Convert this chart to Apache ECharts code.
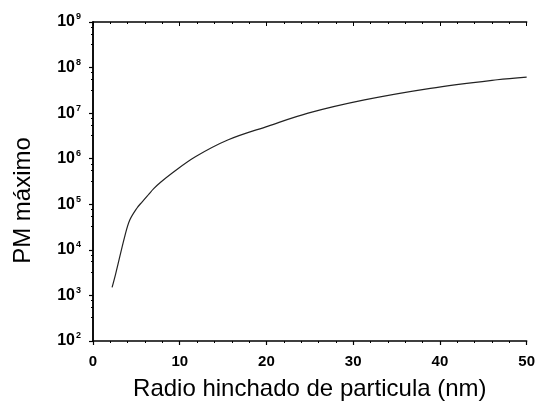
<!DOCTYPE html>
<html><head><meta charset="utf-8">
<script src="https://cdn.jsdelivr.net/npm/echarts@6/dist/echarts.min.js"></script>
<style>html,body{margin:0;padding:0;background:#fff}#c{width:538px;height:406px}</style>
</head><body><div id="c"></div>
<script>
const radius = [2.2, 2.6, 3.67, 4.24, 5.08, 5.65, 6.42, 7.0, 7.76, 9.1, 11.8, 15.6, 20.2, 24.8, 31.3, 38.9, 46.6, 50];
const pmMax = [1.5e3, 2.9e3, 2.0e4, 4.5e4, 8.3e4, 1.12e5, 1.65e5, 2.2e5, 3.0e5, 4.8e5, 1.1e6, 2.6e6, 5.2e6, 1.0e7, 1.95e7, 3.5e7, 5.4e7, 6.2e7];
const xTicks = [0, 10, 20, 30, 40, 50];
const yTickExponents = [2, 3, 4, 5, 6, 7, 8, 9];

const font = 'Liberation Sans, Arial, sans-serif';
const chart = echarts.init(document.getElementById('c'));
const axisLine = {show: true, lineStyle: {color: '#000', width: 1.5}};
chart.setOption({
  animation: false,
  grid: {left: 93, right: 8, top: 22, bottom: 64},
  xAxis: [{
    type: 'value', min: 0, max: 50, interval: 10,
    axisLine: axisLine,
    axisTick: {inside: false, length: 4, lineStyle: {color: '#000', width: 1.2}},
    minorTick: {show: true, splitNumber: 5, length: 2, lineStyle: {color: '#000'}},
    splitLine: {show: false},
    axisLabel: {color: '#000', fontFamily: font, fontSize: 15, fontWeight: 'bold', margin: 13,
      formatter: v => xTicks.includes(v) ? String(v) : ''},
    name: 'Radio hinchado de particula (nm)', nameLocation: 'middle', nameGap: 36,
    nameTextStyle: {color: '#000', fontFamily: font, fontSize: 24}
  }, {
    type: 'value', min: 0, max: 50, interval: 10, position: 'top',
    axisLine: axisLine,
    axisTick: {inside: true, length: 4, lineStyle: {color: '#000'}},
    minorTick: {show: true, splitNumber: 5, length: 2, lineStyle: {color: '#000'}},
    splitLine: {show: false}, axisLabel: {show: false}
  }],
  yAxis: [{
    type: 'log', logBase: 10, min: 100, max: 1e9,
    axisLine: axisLine,
    axisTick: {inside: false, length: 4, lineStyle: {color: '#000', width: 1.2}},
    minorTick: {show: true, splitNumber: 4, length: 2, lineStyle: {color: '#000'}},
    splitLine: {show: false},
    axisLabel: {color: '#000', margin: 12,
      formatter: v => {
        const e = Math.round(Math.log10(v));
        return yTickExponents.includes(e) ? '{b|10}{s|' + e + '}' : '';
      },
      rich: {
        b: {fontFamily: font, fontSize: 16, fontWeight: 'bold', color: '#000'},
        s: {fontFamily: font, fontSize: 9, fontWeight: 'bold', color: '#000', verticalAlign: 'top', padding: [0, 0, 10, 1]}
      }
    },
    name: 'PM máximo', nameLocation: 'middle', nameGap: 58, nameRotate: 90,
    nameTextStyle: {color: '#000', fontFamily: font, fontSize: 24, padding: [0, 38, 0, 0]}
  }, {
    type: 'log', logBase: 10, min: 100, max: 1e9, position: 'right',
    axisLine: axisLine,
    axisTick: {inside: true, length: 4, lineStyle: {color: '#000'}},
    splitLine: {show: false}, axisLabel: {show: false}
  }],
  series: [{
    type: 'line', smooth: 0.35, showSymbol: false,
    data: radius.map((r, i) => [r, pmMax[i]]),
    lineStyle: {color: '#222', width: 1.2}
  }]
});
</script></body></html>
